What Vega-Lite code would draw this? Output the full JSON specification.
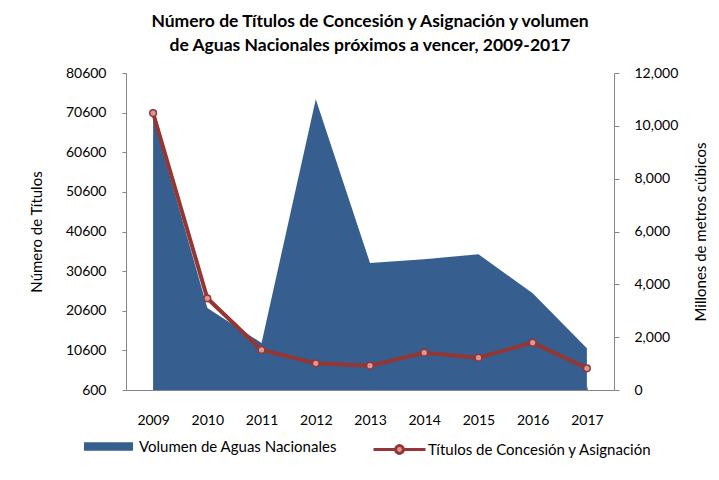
{
  "$schema": "https://vega.github.io/schema/vega-lite/v6.json",
  "autosize": {"type": "none"},
  "width": 488,
  "height": 317,
  "padding": {"left": 126, "top": 73, "right": 105, "bottom": 90},
  "background": "white",
  "config": {
    "font": "Lato",
    "view": {"stroke": null},
    "axis": {"labelFont": "Lato", "titleFont": "Lato", "labelFontSize": 14, "titleFontSize": 15, "labelColor": "#000000", "titleColor": "#000000", "titleFontWeight": "normal", "domainColor": "#868686", "tickColor": "#868686", "grid": false},
    "legend": {"labelFont": "Lato", "labelFontSize": 15, "labelColor": "#000000", "padding": 0, "labelLimit": 400}
  },
  "title": {
    "text": ["Número de Títulos de Concesión y Asignación  y volumen", "de Aguas Nacionales próximos a vencer, 2009-2017"],
    "font": "Lato",
    "fontSize": 17.5,
    "fontWeight": "bold",
    "color": "#000000",
    "lineHeight": 24,
    "anchor": "middle",
    "offset": 12
  },
  "data": {
    "values": [
      {"anio": "2009", "volumen": 10334, "titulos": 70500},
      {"anio": "2010", "volumen": 3104, "titulos": 23740},
      {"anio": "2011", "volumen": 1780, "titulos": 10700},
      {"anio": "2012", "volumen": 11005, "titulos": 7340},
      {"anio": "2013", "volumen": 4808, "titulos": 6730},
      {"anio": "2014", "volumen": 4948, "titulos": 10010},
      {"anio": "2015", "volumen": 5136, "titulos": 8750},
      {"anio": "2016", "volumen": 3660, "titulos": 12540},
      {"anio": "2017", "volumen": 1578, "titulos": 6080}
    ]
  },
  "encoding": {
    "x": {
      "field": "anio",
      "type": "ordinal",
      "scale": {"type": "point", "padding": 0.5},
      "axis": {"title": null, "labelAngle": 0, "tickSize": -3, "labelPadding": 26, "domainColor": "#868686"}
    }
  },
  "layer": [
    {
      "mark": {"type": "area", "interpolate": "linear"},
      "encoding": {
        "y": {
          "field": "volumen",
          "type": "quantitative",
          "scale": {"domain": [0, 12000], "nice": false, "zero": true},
          "axis": {"orient": "right", "title": "Millones de metros cúbicos", "titleAngle": 270, "titleBaseline": "top", "values": [0, 2000, 4000, 6000, 8000, 10000, 12000], "format": ",.0f", "tickSize": 5, "labelPadding": 15, "titlePadding": 16}
        },
        "fill": {
          "datum": "Volumen de Aguas Nacionales",
          "type": "nominal",
          "scale": {"range": ["#365E8F"]},
          "legend": {
            "title": null,
            "orient": "none",
            "legendX": -42,
            "legendY": 349,
            "symbolType": "M-1,-0.178H1V0.178H-1Z",
            "symbolSize": 2401,
            "symbolStrokeWidth": 0,
            "labelOffset": 6
          }
        }
      }
    },
    {
      "mark": {"type": "line", "strokeWidth": 4, "interpolate": "linear"},
      "encoding": {
        "y": {
          "field": "titulos",
          "type": "quantitative",
          "scale": {"domain": [600, 80600], "nice": false, "zero": false},
          "axis": {"orient": "left", "title": "Número de Títulos", "values": [600, 10600, 20600, 30600, 40600, 50600, 60600, 70600, 80600], "format": "d", "tickSize": 4, "labelPadding": 16, "titlePadding": 21}
        },
        "stroke": {
          "datum": "Títulos de Concesión y Asignación",
          "type": "nominal",
          "scale": {"range": ["#943634"]},
          "legend": {
            "title": null,
            "orient": "none",
            "legendX": 246,
            "legendY": 349,
            "symbolType": "M-1,0H-0.15M0.15,0H1M-0.15,0A0.15,0.15 0 1,1 0.15,0A0.15,0.15 0 1,1 -0.15,0",
            "symbolSize": 2704,
            "symbolStrokeWidth": 3,
            "symbolFillColor": "#D99795",
            "labelOffset": 1
          }
        }
      }
    },
    {
      "mark": {"type": "point", "filled": true, "fill": "#D99795", "stroke": "#943634", "strokeWidth": 1.5, "size": 45, "opacity": 1},
      "encoding": {
        "y": {"field": "titulos", "type": "quantitative", "scale": {"domain": [600, 80600], "nice": false, "zero": false}, "axis": null}
      }
    }
  ],
  "resolve": {"scale": {"y": "independent", "fill": "independent", "stroke": "independent"}}
}
